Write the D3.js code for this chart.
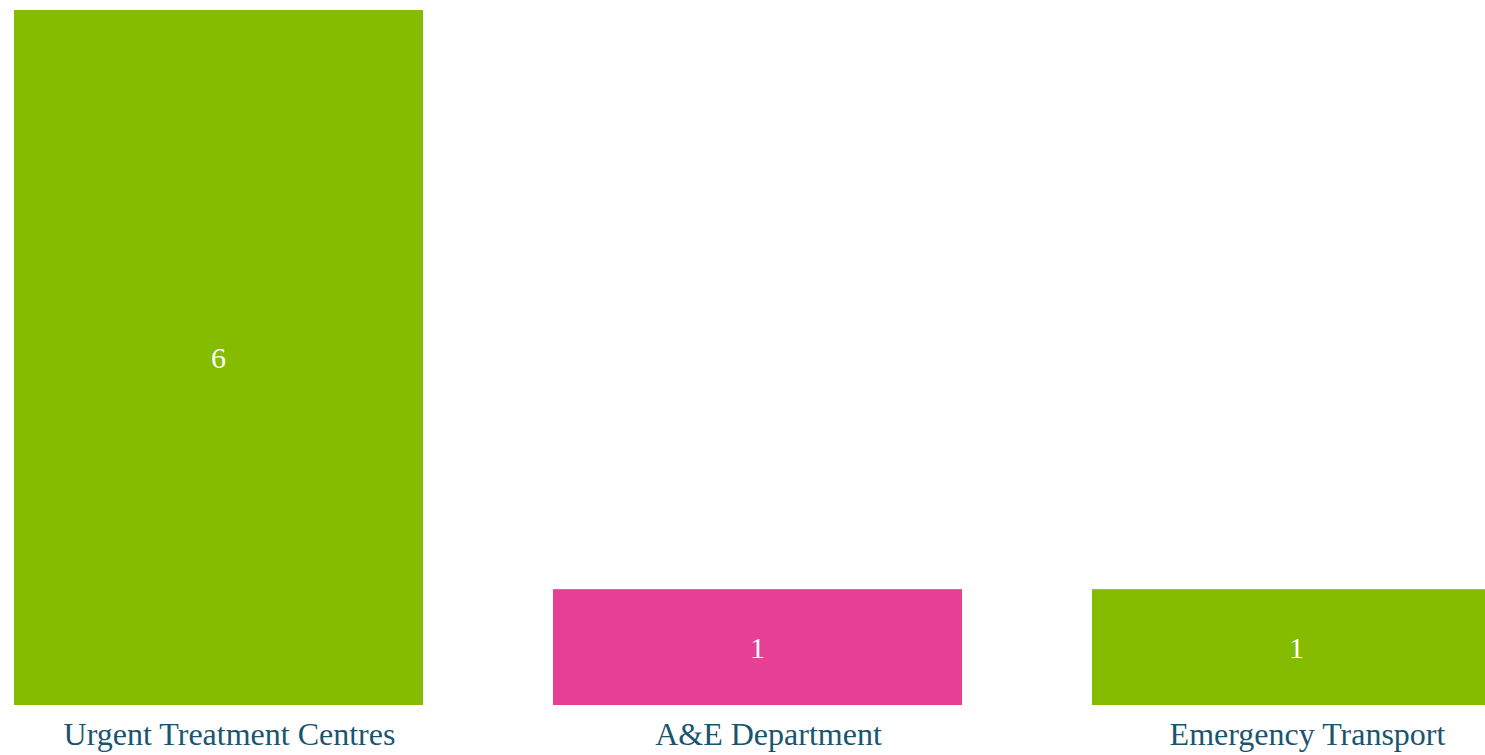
<!DOCTYPE html>
<html>
<head>
<meta charset="utf-8">
<script src="https://cdn.jsdelivr.net/npm/d3@7"></script>
<style>
  html, body { margin: 0; padding: 0; background: #fff; overflow: hidden; }
  svg { display: block; }
</style>
</head>
<body>
<svg id="chart" width="1485" height="755"></svg>
<script>
// Services and the number of each
const categories = ["Urgent Treatment Centres", "A&E Department", "Emergency Transport"];
const counts = [6, 1, 1];
const barColors = ["#86bc00", "#e63f96", "#86bc00"];

const svg = d3.select("#chart");

// Band scale runs a little past the right edge, so the last bar is cut off
const x = d3.scaleBand()
  .domain(categories)
  .range([14, 1501])
  .paddingInner(130 / 539)
  .paddingOuter(0);

const y = d3.scaleLinear()
  .domain([0, 6])
  .range([705, 10]);

const data = categories.map((c, i) => ({ name: c, value: counts[i], color: barColors[i] }));

svg.selectAll("rect.bar")
  .data(data)
  .join("rect")
  .attr("class", "bar")
  .attr("x", d => x(d.name))
  .attr("y", d => y(d.value))
  .attr("width", x.bandwidth())
  .attr("height", d => y(0) - y(d.value))
  .attr("fill", d => d.color);

// Counts written inside each bar
svg.selectAll("text.value")
  .data(data)
  .join("text")
  .attr("class", "value")
  .attr("x", d => x(d.name) + x.bandwidth() / 2)
  .attr("y", d => (y(d.value) + y(0)) / 2)
  .attr("text-anchor", "middle")
  .attr("dominant-baseline", "central")
  .attr("font-family", "'Liberation Serif', 'Times New Roman', serif")
  .attr("font-size", 30)
  .attr("fill", "#ffffff")
  .text(d => d.value);

// Category names under the bars
svg.selectAll("text.cat")
  .data(data)
  .join("text")
  .attr("class", "cat")
  .attr("x", d => x(d.name) + x.bandwidth() / 2 + 11)
  .attr("y", 745)
  .attr("text-anchor", "middle")
  .attr("font-family", "'Liberation Serif', 'Times New Roman', serif")
  .attr("font-size", 32)
  .attr("fill", "#1a5570")
  .text(d => d.name);
</script>
</body>
</html>
